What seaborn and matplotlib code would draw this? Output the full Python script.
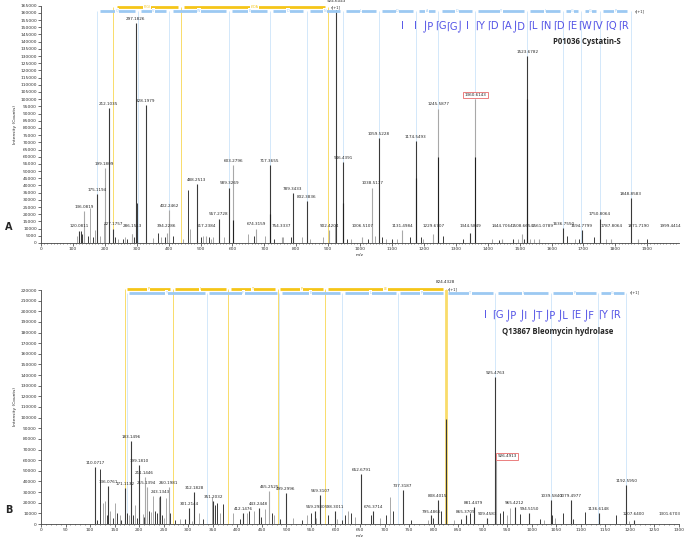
import pandas as pd
import seaborn as sns
import matplotlib.pyplot as plt
from matplotlib.ticker import MultipleLocator


# ---------------- panel A : P01036 Cystatin-S ----------------
a_label = ["120.0811", "136.0819", "175.1194", "199.1809", "212.1035", "227.1757",
           "286.1513", "297.1826", "328.1979", "394.2286", "402.2462", "488.2513",
           "517.2384", "557.2728", "589.3269", "603.2796", "674.3159", "717.3655",
           "754.3337", "789.3433", "832.3836", "902.4204", "924.6043", "946.4391",
           "1006.5107", "1038.5177", "1059.5228", "1131.4984", "1174.5493", "1229.6707",
           "1245.5877", "1344.5849", "1360.6143", "1444.7064", "1508.6654", "1523.6782",
           "1561.0789", "1636.7550", "1694.7799", "1750.8064", "1787.8064", "1848.8583",
           "1871.7190", "1999.4414"]
a_height = [8000, 22000, 34000, 52000, 94000, 10000,
            6000, 153000, 96000, 7000, 23000, 41000,
            5000, 17000, 38500, 54000, 10000, 54000,
            4000, 35000, 29000, 9000, 163000, 56000,
            4000, 38500, 73000, 9000, 71000, 6000,
            93500, 7000, 100000, 3000, 6000, 130000,
            3000, 10500, 9000, 17000, 3000, 31000,
            3000, 2000]
a_shade = ["d", "l", "d", "l", "d", "d",
           "l", "d", "d", "l", "l", "d",
           "l", "d", "d", "l", "l", "d",
           "l", "d", "d", "l", "d", "d",
           "l", "l", "d", "l", "d", "l",
           "l", "d", "l", "l", "l", "d",
           "l", "d", "d", "d", "l", "d",
           "l", "l"]

a_small_mz = [113, 125, 130, 134, 148, 155, 163, 170, 186, 197, 233, 242, 256, 263, 270,
              284, 290, 301, 350, 366, 376, 390, 413, 444, 462, 467, 502, 509, 526, 533,
              539, 573, 648, 667, 702, 729, 758, 782, 818, 844, 885, 920, 958, 973, 1025,
              1047, 1069, 1080, 1099, 1115, 1156, 1190, 1198, 1261, 1321, 1412, 1436, 1480,
              1495, 1514, 1532, 1545, 1647, 1674, 1687, 1734, 1770, 1898]
a_small_h = [5000, 8000, 6000, 18000, 5000, 24000, 4000, 9000, 5000, 14000, 4000, 3000, 3000, 4000, 3000,
             6000, 4000, 28000, 3500, 7000, 4000, 4000, 5000, 3000, 37000, 10000, 4000, 5000, 4000, 3000,
             4000, 4000, 6000, 5000, 5000, 3000, 4000, 4000, 4000, 3000, 4000, 13000, 3000, 3000, 3000,
             5000, 4000, 3000, 3000, 3000, 4000, 4000, 3000, 5000, 3000, 3000, 2000, 3000,
             3000, 3000, 3000, 3000, 5000, 3000, 3000, 4000, 3000, 3000]
a_small_shade = ["l", "d", "d", "l", "d", "l", "d", "l", "l", "l", "d", "l", "d", "l", "d",
                 "l", "d", "d", "l", "d", "l", "d", "d", "l", "d", "l", "d", "l", "d", "l",
                 "l", "l", "l", "d", "l", "d", "l", "d", "l", "l", "l", "l", "d", "l", "d",
                 "l", "d", "l", "d", "l", "d", "d", "l", "d", "d", "l", "d", "d",
                 "l", "d", "l", "l", "d", "l", "d", "d", "l", "d"]

a_over_mz = [603.2796, 717.3655, 946.4391, 1174.5493, 1245.5877, 1360.6143, 1523.6782]
a_over_h = [16000, 20000, 28000, 45000, 60000, 60000, 100000]

a_y_ions = [175.12, 303.18, 402.25, 588.33, 717.37, 832.40, 946.44, 1059.52, 1174.55,
            1245.59, 1360.62, 1523.68, 1636.77, 1693.79, 1750.81, 1847.86]
a_y_res = ["Q", "V", "W", "E", "D", "N", "L", "D", "A", "D", "Y", "I", "G", "G", "P"]
a_b_ions = [227.18, 438.27, 900.49]
a_b_res = ["P(G)", "IYDA"]
a_seq = ["I", "I", "⌡P", "⌈G", "⌈G⌡", "I", "⌈Y", "⌈D", "⌈A", "⌡D", "⌈L",
         "⌈N", "⌈D", "⌈E", "⌈W", "⌈V", "⌈Q", "⌈R"]

# ---------------- panel B : Q13867 Bleomycin hydrolase ----------------
b_label = ["110.0717", "136.0761", "171.1132", "183.1496", "199.1810", "211.1446",
           "215.1394", "243.1343", "260.1981", "301.2144", "312.1828", "351.2032",
           "412.1476", "443.2448", "465.2525", "499.2996", "559.2980", "569.3107",
           "598.3011", "652.6791", "676.3714", "737.3187", "795.4866", "808.4015",
           "824.4328", "865.3709", "881.4479", "909.4583", "925.4763", "926.4913",
           "965.4212", "994.5150", "1039.5840", "1079.4977", "1136.6148", "1192.5950",
           "1207.6400", "1301.6703"]
b_height = [54000, 36000, 34000, 78000, 55500, 44500,
            34500, 26000, 34500, 14700, 30000, 22000,
            10000, 15000, 31000, 29500, 12000, 27000,
            12000, 47000, 12000, 32000, 8000, 22500,
            99000, 8000, 15700, 6000, 138000, 60000,
            15700, 10000, 23000, 22500, 10000, 37000,
            4000, 4000]
b_shade = ["d", "d", "d", "d", "d", "l",
           "l", "d", "l", "d", "d", "d",
           "d", "d", "l", "d", "d", "d",
           "d", "d", "d", "d", "d", "d",
           "d", "d", "d", "d", "d", "l",
           "d", "d", "d", "d", "d", "d",
           "d", "d"]

b_small_mz = [115, 120, 126, 131, 135, 141, 146, 151, 155, 161, 164, 176, 180, 188, 191,
              196, 207, 210, 220, 224, 229, 233, 237, 240, 246, 251, 255, 262, 273, 283,
              293, 307, 322, 331, 348, 355, 359, 365, 370, 392, 406, 419, 424, 433, 448,
              457, 470, 475, 488, 514, 531, 541, 551, 560, 585, 604, 613, 619, 626, 632,
              639, 672, 691, 703, 711, 718, 754, 788, 798, 816, 842, 855, 875, 936, 942,
              949, 956, 976, 1017, 1025, 1042, 1047, 1064, 1085, 1108, 1172, 1199]
b_small_h = [4000, 52000, 20000, 22000, 8000, 12000, 6000, 20000, 10000, 8000, 4000, 10000, 8000, 8000, 18000,
             6000, 9000, 7000, 12000, 11000, 26000, 12000, 10000, 25000, 8000, 6000, 24000, 10000, 4000, 5000,
             5000, 3000, 10000, 5000, 25000, 18000, 20000, 10000, 19000, 10000, 5000, 10000, 12000, 12000, 7000,
             14000, 10000, 8000, 5000, 6000, 4000, 8000, 10000, 6000, 8000, 5000, 4000, 8000, 12000, 10000,
             7000, 8000, 6000, 8000, 25000, 12000, 4000, 4000, 6000, 12000, 4000, 5000, 10000, 10000, 12000,
             8000, 15000, 9000, 5000, 4000, 8000, 6000, 10000, 5000, 11000, 8000, 3000]
b_small_shade = ["d", "d", "l", "l", "d", "l", "d", "l", "d", "l", "d", "d", "l", "d", "l",
                 "d", "l", "d", "d", "l", "l", "d", "d", "l", "d", "l", "l", "d", "d", "l",
                 "d", "l", "l", "d", "l", "d", "d", "l", "d", "l", "d", "l", "d", "l", "d",
                 "l", "d", "l", "d", "l", "d", "l", "d", "l", "d", "l", "d", "d", "l", "d",
                 "l", "d", "l", "d", "l", "d", "d", "l", "d", "d", "l", "d", "d", "d", "d",
                 "l", "l", "d", "d", "l", "d", "l", "d", "d", "d", "d", "l"]

b_y_ions = [175.12, 338.18, 485.25, 614.29, 727.38, 824.43, 925.48, 1038.56, 1135.61, 1192.63]
b_y_res = ["Y", "F", "E", "L", "P", "T", "I", "P", "G"]
b_b_ions = [171.11, 268.17, 381.25, 482.30, 579.35, 824.43]
b_b_res = ["P", "I", "T", "P", "LE"]
b_seq = ["I", "⌈G", "⌡P", "⌡I", "⌡T", "⌡P", "⌡L", "⌈E", "⌡F", "⌈Y", "⌈R"]


DARK = "#3a3a3a"
LIGHT = "#a8a8a8"
YEL = "#f5c518"
YEL_L = "#f9dc6a"
BLU = "#9cc9f2"
BLU_L = "#d3e8fa"
SEQ = "#5454e6"

sns.set_style("ticks")
plt.rcParams["font.family"] = ["DejaVu Sans"]

fig = plt.figure(figsize=(6.85, 5.37), dpi=100)
axA = fig.add_axes([41 / 685, 1 - 243 / 537, 638 / 685, 237.3 / 537])
axB = fig.add_axes([41 / 685, 1 - 524 / 537, 638 / 685, 234 / 537])


def draw_peaks(ax, mz, h, shade, lw):
    df = pd.DataFrame({"mz": mz, "h": h, "shade": shade})
    for s, c in [("l", LIGHT), ("d", DARK)]:
        d = df[df["shade"] == s]
        ax.vlines(d["mz"], 0, d["h"], color=c, lw=lw, zorder=3)


def ion_bar(ax, ions, res, yv, color, guide, gap, lw, glw=0.7):
    ax.vlines(ions, 0, yv, color=guide, lw=glw, zorder=1, clip_on=False)
    for i in range(len(ions) - 1):
        x0, x1 = ions[i], ions[i + 1]
        ax.plot([x0 + gap, x1 - gap], [yv, yv], color=color, lw=lw,
                solid_capstyle="butt", clip_on=False, zorder=4)
        ax.text((x0 + x1) / 2, yv, res[i], fontsize=2.4, color=color,
                ha="center", va="center", zorder=5,
                bbox=dict(boxstyle="square,pad=0.15", fc="white", ec="none"))


def peak_label(ax, x, y, t, xmax, box=None):
    ha = "center"
    if x > xmax * 0.985:
        ha = "right"
        x = xmax * 1.003
    ax.text(x, y, t, fontsize=3.0, ha=ha, va="bottom", zorder=6, bbox=box,
            clip_on=False)


def style_axis(ax, xmax, xmaj, xmin, ymax, ymaj):
    ax.set_xlim(0, xmax)
    ax.set_ylim(0, ymax)
    ax.xaxis.set_major_locator(MultipleLocator(xmaj))
    ax.xaxis.set_minor_locator(MultipleLocator(xmin))
    ax.yaxis.set_major_locator(MultipleLocator(ymaj))
    ax.yaxis.set_major_formatter(plt.FuncFormatter(lambda v, p: f"{int(v)}"))
    ax.tick_params(axis="both", which="major", labelsize=3.2, length=2, width=0.5,
                   pad=1, colors="#333333")
    ax.tick_params(axis="x", which="minor", length=1, width=0.4, color="#333333")
    ax.set_xlabel("m/z", fontsize=3.2, labelpad=1)
    ax.set_ylabel("Intensity (Counts)", fontsize=3.2, labelpad=2)
    sns.despine(ax=ax)
    for s in ["left", "bottom"]:
        ax.spines[s].set_linewidth(0.6)
        ax.spines[s].set_color("#444444")


# ---- panel A ----
ion_bar(axA, a_y_ions, a_y_res, 161400, BLU, BLU_L, 10, 2.0)
ion_bar(axA, a_b_ions, a_b_res, 164100, YEL, YEL_L, 10, 2.0)
draw_peaks(axA, a_small_mz, a_small_h, a_small_shade, 0.7)
draw_peaks(axA, [float(t) for t in a_label], a_height, a_shade, 0.8)
axA.vlines(a_over_mz, 0, a_over_h, color="#222222", lw=0.8, zorder=3)

for t, v in zip(a_label, a_height):
    x = float(t)
    if t == "924.6043":
        axA.text(x, 167000, t, fontsize=3.0, ha="center", va="bottom", clip_on=False)
        axA.text(x, 163600, "s[+1]", fontsize=2.6, ha="center", va="center", zorder=6,
                 bbox=dict(boxstyle="square,pad=0.1", fc="white", ec="none"))
        continue
    box = None
    if t == "1360.6143":
        box = dict(boxstyle="square,pad=0.35", fc="white", ec="#e86a6a", lw=0.6)
    if t == "1561.0789":
        x += 12
    peak_label(axA, x, max(v, 9000) + 1500, t, 1999.5, box)
axA.text(a_y_ions[-1] + 12, 161400, "s[+1]", fontsize=2.6, ha="left", va="center",
         clip_on=False)
style_axis(axA, 1999.5, 100, 10, 165000, 5000)

# ---- panel B ----
ion_bar(axB, b_y_ions, b_y_res, 217400, BLU, BLU_L, 5, 2.0)
ion_bar(axB, b_b_ions, b_b_res, 220900, YEL, YEL_L, 5, 2.0)
axB.vlines([824.43], 0, 220900, color=YEL_L, lw=2.0, zorder=2)
draw_peaks(axB, b_small_mz, b_small_h, b_small_shade, 0.7)
draw_peaks(axB, [float(t) for t in b_label], b_height, b_shade, 0.8)

for t, v in zip(b_label, b_height):
    x = float(t)
    if t == "824.4328":
        axB.text(x, 225500, t, fontsize=3.0, ha="center", va="bottom", clip_on=False)
        axB.text(x + 4, 221000, "s[+1]", fontsize=2.6, ha="left", va="center",
                 clip_on=False, zorder=6)
        continue
    if t == "926.4913":
        axB.text(x + 4, 62000, t, fontsize=3.0, ha="left", va="bottom", zorder=6,
                 bbox=dict(boxstyle="square,pad=0.35", fc="white", ec="#e86a6a", lw=0.6))
        continue
    peak_label(axB, x, max(v, 6000) + 1800, t, 1300)
axB.text(b_y_ions[-1] + 8, 217400, "s[+1]", fontsize=2.6, ha="left", va="center",
         clip_on=False)
style_axis(axB, 1300, 50, 10, 220000, 10000)

# ---- sequence / protein annotations ----
for i, tok in enumerate(a_seq):
    fig.text((402 + i * 222 / (len(a_seq) - 1)) / 685, 1 - 26 / 537, tok, color=SEQ,
             fontsize=7.2, ha="center", va="center")
fig.text(587 / 685, 1 - 42 / 537, "P01036 Cystatin-S", fontsize=5.6, weight="bold",
         family=["Open Sans", "DejaVu Sans"], ha="center", va="center")

for i, tok in enumerate(b_seq):
    fig.text((485 + i * 131 / (len(b_seq) - 1)) / 685, 1 - 315 / 537, tok, color=SEQ,
             fontsize=7.2, ha="center", va="center")
fig.text(558 / 685, 1 - 331 / 537, "Q13867 Bleomycin hydrolase", fontsize=5.6,
         weight="bold", family=["Open Sans", "DejaVu Sans"], ha="center", va="center")

fig.text(5 / 685, 1 - 227 / 537, "A", fontsize=7, weight="bold", va="center")
fig.text(5 / 685, 1 - 510 / 537, "B", fontsize=7, weight="bold", va="center")

plt.savefig("out.png", dpi=100)
